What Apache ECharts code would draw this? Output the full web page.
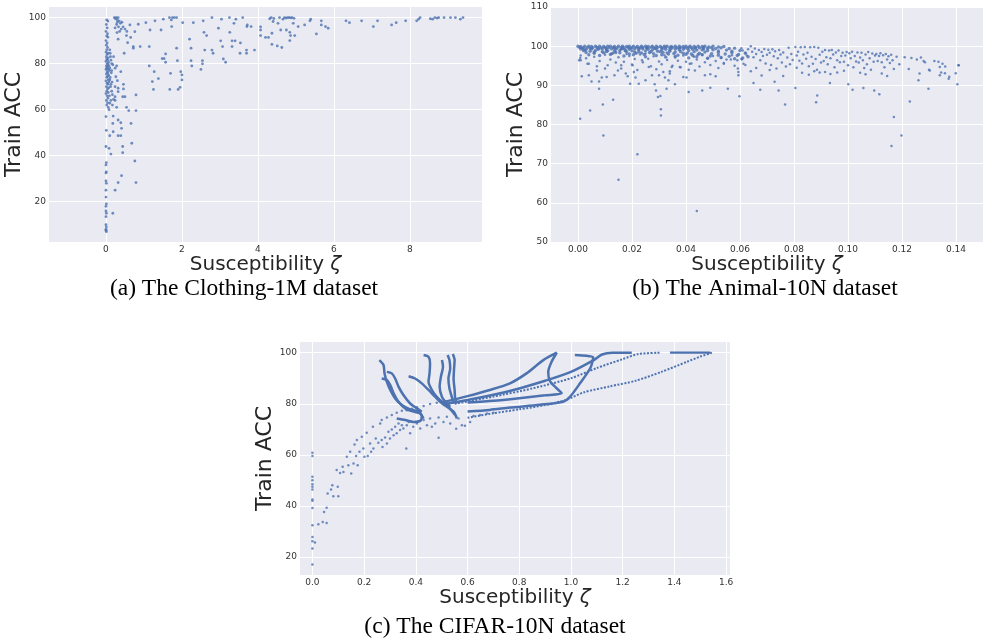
<!DOCTYPE html>
<html><head><meta charset="utf-8">
<script src="https://cdn.jsdelivr.net/npm/echarts@6/dist/echarts.min.js"></script>
<style>html,body{margin:0;padding:0;background:#fff}#c{width:984px;height:640px}</style>
</head><body><div id="c"></div>
<script>
// ---------- Tick labels ----------
const ticksAX = [0, 2, 4, 6, 8];
const ticksAY = [20, 40, 60, 80, 100];
const ticksBX = [0, 0.02, 0.04, 0.06, 0.08, 0.10, 0.12, 0.14];
const ticksBY = [50, 60, 70, 80, 90, 100, 110];
const ticksCX = [0, 0.2, 0.4, 0.6, 0.8, 1.0, 1.2, 1.4, 1.6];
const ticksCY = [20, 40, 60, 80, 100];
const captions = ['(a) The Clothing-1M dataset', '(b) The Animal-10N dataset', '(c) The CIFAR-10N dataset'];
const xTitle = 'Susceptibility ';
const yTitle = 'Train ACC';

// ---------- (a) Clothing-1M ----------
const clothingPoints = [
[0.02,99],[0.05,98.5],[0.01,97],[0.03,95.5],[0.0,94],[0.04,93],[0.02,92],[0.05,91.5],[0.0,90],[0.03,89],[0.01,88],[0.04,87],[0.02,86],[0.0,85],[0.05,84.5],[0.03,84],[0.01,83],[0.06,82.5],[0.02,82],[0.04,81.5],[0.0,81],[0.07,80.5],[0.03,80],[0.05,79.5],[0.01,79],[0.08,79],[0.04,78.5],[0.02,78],[0.06,77.5],[0.0,77.5],[0.09,77],[0.03,76.5],[0.05,76],[0.01,75.5],[0.07,75],[0.04,74.5],[0.02,74],[0.06,73],[0.0,72.5],[0.08,72],[0.03,71.5],[0.05,71],[0.01,70],[0.07,69.5],[0.04,69],[0.02,68],[0.06,67.5],[0.0,67],[0.03,66],[0.05,65],[0.01,64],[0.04,63],[0.02,62],[0.06,61],[0.0,57],[0.01,51],[0.0,44],[0.01,37],[0.0,36],[0.01,33],[0.0,32.5],[0.0,29],[0.01,28],[0.0,25],[0.0,22],[0.01,19],[0.0,18],[0.0,16],[0.01,15],[0.0,13.5],[0.0,10],[0.01,9],[0.0,8],[0.0,7.5],[0.01,7],
[0.1,86],[0.12,83],[0.15,80],[0.1,78],[0.14,76],[0.11,74],[0.16,72],[0.12,70],[0.15,68],[0.09,66],[0.13,64],[0.17,62],[0.08,60],[0.11,84.5],[0.13,81.5],[0.18,79.5],[0.15,77],[0.1,73],[0.13,71],[0.17,66.5],[0.2,64.5],
[0.22,100],[0.27,100],[0.32,100],[0.25,99.5],[0.3,99],[0.35,98.5],[0.42,98],[0.28,97],[0.38,97.5],[0.33,96],[0.24,95.5],[0.45,96],[0.4,95],[0.5,95],[0.36,94],[0.29,93.5],[0.55,94],[0.63,96.8],[0.3,98],
[0.32,90.6],[0.48,84.5],[0.2,83],[0.28,79],[0.24,78],[0.39,76.5],[0.26,74.3],[0.3,72.6],[0.24,70],[0.46,71],[0.46,69],[0.32,69.3],[0.32,67.8],[0.24,65.6],[0.24,64],[0.44,65.6],[0.5,65.6],[0.79,66.4],[0.1,62.8],[0.28,61],[0.54,61],[0.6,59.6],[0.79,59.6],[0.19,57.2],[0.18,54],[0.32,55.5],[0.39,54.3],[0.66,54],[0.41,51.9],[0.1,48.7],[0.32,48.7],[0.39,48.7],[0.19,50.4],[0.44,44],[0.44,41.3],[0.68,45.4],[0.76,37.7],[0.13,40.7],[0.08,43.2],[0.41,31.3],[0.32,28.3],[0.79,28.3],[0.24,25],[0.18,15],
[0.54,92.2],[0.65,91.4],[0.57,89.1],[0.72,87.4],[0.72,86.7],[0.9,87.4],[0.85,97.1],[0.76,93.9],[1.05,97.8],[1.16,94.6],[1.29,98.6],[1.14,87.4],[1.14,79],[1.22,72.2],[1.25,68.8],[1.27,76.5],[1.38,73.5],[1.45,94.6],[1.51,99.3],[1.48,82.2],[1.53,82.2],[1.57,84.2],[1.57,80.6],[1.67,100],[1.75,100],[1.8,100],[1.86,100],[1.72,99],[1.73,96.1],[1.7,75.8],[1.68,68.8],[1.86,86.7],[1.88,81.3],[1.9,68.8],[1.95,69.7],[1.97,76.5],[2.0,75.1],[2.0,72.9],[2.02,97.8],[2.2,90.6],[2.24,86.7],[2.24,81.3],[2.26,79],[2.3,97.8],[2.5,77.5],[2.54,81.3],[2.54,79.9],[2.56,98.6],[2.58,93.6],[2.6,85.9],[2.65,92.2],[2.79,100],[2.79,85.9],[2.82,84.5],[2.96,95.4],[3.02,89.9],[3.04,99.3],[3.07,87.4],[3.09,82],[3.15,80.6],[3.25,100],[3.26,93.6],[3.32,87.4],[3.32,89.9],[3.37,97.5],[3.4,89.9],[3.42,99.3],[3.53,84.5],[3.6,100],[3.7,85.9],[3.7,84.5],[3.72,96.8],
[3.54,89],[3.71,96.1],[3.82,96.1],[3.91,85.9],[4.07,96],[4.07,94.6],[4.07,92.2],[4.2,91.4],[4.28,91.4],[4.31,99.5],[4.35,100],[4.42,99.6],[4.4,98.3],[4.37,93.2],[4.37,88.4],[4.51,87.7],[4.53,97.5],[4.57,100],[4.6,94.6],[4.63,87],[4.66,99.3],[4.7,100],[4.74,99.8],[4.78,100],[4.82,100],[4.86,99.9],[4.9,100],[4.75,94.6],[4.84,93.6],[4.84,90],[4.86,92.2],[4.95,99.7],[4.93,97.5],[4.97,92.2],[5.06,96.1],[5.23,96.8],[5.37,98.6],[5.39,99.3],[5.54,92.9],[5.67,98.6],[5.67,96.8],[5.78,96.1],[5.85,95.4],[6.32,98.6],[6.41,97.8],[6.73,98.6],[7.04,96.1],[7.15,98.6],[7.52,96.8],[7.64,97.8],[7.89,98.6],[8.18,98.6],[8.23,99.3],[8.27,100],[8.54,99.5],[8.6,99.3],[8.66,100],[8.72,99.8],[8.76,100],[8.9,100],[9.07,100],[9.2,100],[9.33,99.3],[9.4,100]
];

// ---------- (b) Animal-10N ----------
const animalBand = [
[0.000,100],[0.001,99.9],[0.0025,100],[0.004,100],[0.005,99.9],[0.0065,100],[0.008,100],[0.0095,99.9],[0.011,100],[0.012,100],[0.0135,99.9],[0.015,100],[0.0165,100],[0.018,99.9],[0.019,100],[0.0205,100],[0.022,99.9],[0.0235,100],[0.025,100],[0.026,99.9],[0.0275,100],[0.029,100],[0.0305,99.9],[0.032,100],[0.033,100],[0.0345,99.9],[0.036,100],[0.0375,100],[0.039,99.9],[0.040,100],[0.0415,100],[0.043,99.9],[0.0445,100],[0.046,99.9],[0.047,100],[0.0485,99.8],[0.050,100],[0.052,99.8],[0.054,99.9],
[0.0005,99.7],[0.002,99.6],[0.0035,99.7],[0.0055,99.6],[0.007,99.7],[0.0085,99.6],[0.010,99.7],[0.0115,99.6],[0.013,99.7],[0.0145,99.6],[0.016,99.7],[0.017,99.6],[0.0185,99.7],[0.020,99.6],[0.0215,99.7],[0.023,99.6],[0.024,99.7],[0.0255,99.6],[0.027,99.7],[0.028,99.6],[0.0295,99.7],[0.031,99.6],[0.0325,99.7],[0.034,99.6],[0.035,99.7],[0.0365,99.6],[0.038,99.7],[0.0395,99.6],[0.041,99.7],[0.042,99.6],[0.0435,99.7],[0.045,99.6],[0.0465,99.7],[0.048,99.5],[0.0495,99.6],[0.051,99.4],[0.053,99.6],[0.056,99.4],[0.058,99.5],
[0.001,99.3],[0.003,99.2],[0.005,99.3],[0.0075,99.2],[0.009,99.3],[0.0105,99.1],[0.0125,99.3],[0.014,99.2],[0.016,99.3],[0.0175,99.1],[0.019,99.2],[0.021,99.3],[0.0225,99.1],[0.024,99.3],[0.026,99.2],[0.0275,99.0],[0.029,99.3],[0.031,99.1],[0.0325,99.2],[0.034,99.0],[0.036,99.3],[0.0375,99.1],[0.039,99.2],[0.041,98.9],[0.0425,99.2],[0.044,99.0],[0.046,99.1],[0.048,98.9],[0.050,99.1],[0.052,98.8],[0.055,99.0],[0.057,98.7],[0.060,98.9],
[0.002,98.9],[0.0045,98.7],[0.0065,98.9],[0.009,98.6],[0.011,98.8],[0.0135,98.7],[0.0155,98.9],[0.018,98.6],[0.020,98.8],[0.0225,98.5],[0.025,98.8],[0.027,98.6],[0.0295,98.7],[0.0315,98.4],[0.034,98.7],[0.036,98.5],[0.038,98.6],[0.0405,98.3],[0.043,98.6],[0.045,98.2],[0.047,98.5],[0.0495,98.1],[0.052,98.4],[0.0545,98.0],[0.057,98.3],[0.0595,97.9],[0.062,98.2],
[0.003,98.4],[0.006,98.2],[0.0095,98.3],[0.0125,98.1],[0.0155,98.3],[0.019,98.0],[0.0215,98.2],[0.0245,97.9],[0.028,98.1],[0.031,97.8],[0.0335,98.0],[0.037,97.7],[0.040,97.9],[0.0425,97.6],[0.046,97.8],[0.049,97.5],[0.052,97.7],[0.056,97.4],[0.059,97.6],[0.063,97.3],
[0.004,97.8],[0.008,97.6],[0.012,97.9],[0.017,97.5],[0.0205,97.8],[0.025,97.3],[0.029,97.6],[0.0325,97.2],[0.036,97.4],[0.041,97.0],[0.044,97.3],[0.048,96.9],[0.053,97.1],[0.058,96.8],[0.061,97.0],
[0.0015,99.5],[0.0045,99.4],[0.0075,99.5],[0.0105,99.4],[0.0135,99.5],[0.0165,99.4],[0.0195,99.5],[0.0225,99.4],[0.0255,99.5],[0.0285,99.4],[0.0315,99.5],[0.0345,99.4],[0.0375,99.5],[0.0405,99.4],[0.0435,99.5],[0.0465,99.3],
[0.0025,99.0],[0.006,98.5],[0.0105,98.6],[0.014,98.4],[0.0175,98.8],[0.021,98.5],[0.0235,98.3],[0.0265,98.4],[0.0305,98.6],[0.033,98.3],[0.0355,98.1],[0.039,98.2],[0.042,98.0],[0.0445,97.9]
];
const animalSparse = [
[0.001,97.6],[0.003,96.9],[0.006,97.3],[0.008,96.2],[0.010,97.8],[0.012,96.6],[0.014,95.8],[0.015,97.2],[0.017,96.0],[0.019,97.5],[0.020,95.3],[0.021,96.7],[0.023,97.9],[0.024,95.9],[0.026,96.8],[0.027,94.9],[0.028,97.4],[0.030,96.1],[0.031,95.4],[0.032,97.7],[0.033,96.5],[0.035,95.0],[0.036,97.1],[0.037,96.3],[0.038,94.6],[0.039,97.6],[0.040,96.0],[0.042,95.6],[0.043,97.3],[0.044,96.6],[0.045,94.8],[0.046,97.8],[0.047,95.9],[0.048,96.9],[0.049,95.2],[0.050,97.5],[0.051,96.2],[0.052,94.4],[0.053,97.0],[0.054,95.7],[0.055,96.6],[0.057,97.7],[0.058,95.0],[0.059,96.4],[0.016,94.3],[0.022,93.9],[0.029,94.1],[0.034,93.6],[0.041,94.0],[0.004,95.5],[0.007,94.9],[0.011,95.1],[0.018,98.0],[0.025,98.1],[0.013,98.2],
[0.0004,96.4],[0.0008,97],[0.001,96.4],[0.0008,81.5],[0.0014,92.3],[0.0035,95.5],[0.004,92.6],[0.0045,83.6],[0.005,91],[0.007,93.8],[0.0078,91],[0.0078,89.1],[0.0088,92],[0.0092,85.1],[0.0094,77.2],[0.01,94.3],[0.0106,92.1],[0.013,86.3],[0.0135,92.6],[0.0148,93.8],[0.015,65.9],[0.016,95.1],[0.0177,93],[0.0184,92.3],[0.0193,90.4],[0.0202,95.1],[0.0207,93.4],[0.0213,92],[0.022,72.4],[0.0225,90.4],[0.0237,96.4],[0.025,91.3],[0.0262,94.7],[0.0274,92.6],[0.0284,90.3],[0.0289,88.7],[0.0296,87],[0.0305,87.3],[0.0307,83.9],[0.0307,82.3],[0.03,92.6],[0.0316,93.4],[0.0322,92],[0.0328,89.1],[0.0335,91.3],[0.034,93],[0.0347,94.7],[0.0359,90.3],[0.0377,94.7],[0.039,92.1],[0.0402,92],[0.041,88.3],[0.0414,95.5],[0.0433,93.8],[0.044,57.9],[0.046,88.7],[0.047,92.6],[0.049,92.8],[0.049,89.4],[0.051,92.3],[0.054,95.5],[0.0555,89.1],[0.0566,96.6],[0.0592,94.3],[0.0594,93.4],[0.0594,92.6],[0.0598,87.2],[0.0607,96.6],[0.0613,95.5],
[0.065,90.6],[0.0675,88.9],[0.0728,90.9],[0.0743,88.7],[0.0767,85.1],[0.0805,89.3],[0.0882,85.7],[0.0886,87.4],[0.0933,90.6],[0.1001,90.3],[0.1017,88.9],[0.1057,89.3],[0.1097,88.7],[0.1116,87.7],[0.117,81.9],[0.1161,74.5],[0.1198,77.2],[0.1229,85.9],[0.1261,91.3],[0.1298,89.1],[0.1303,93.8],[0.134,92.6],[0.1359,93.1],[0.1373,91.7],[0.1399,93.1],[0.1405,90.3],[0.1409,95.1],
[0.0605,99.5],[0.061,98.9],[0.062,98.3],[0.0625,97.6],[0.063,99.2],[0.064,100],[0.0645,98.6],[0.065,97.2],[0.0655,99.4],[0.066,98.0],[0.067,99.0],[0.0675,96.4],[0.068,98.5],[0.0685,97.5],[0.069,99.3],[0.0695,95.6],[0.0605,96.8],[0.062,95.2],[0.064,93.6],[0.066,94.4],[0.068,92.5],[0.070,97.8],[0.0705,99.1],
[0.071,98.3],[0.072,99.2],[0.0725,97.4],[0.073,98.7],[0.074,96.9],[0.0745,99.0],[0.075,97.9],[0.0755,95.8],[0.076,98.4],[0.077,94.8],[0.0775,97.1],[0.078,99.6],[0.0785,95.4],[0.079,98.0],[0.0795,96.5],[0.071,93.9],[0.0735,94.3],[0.076,92.4],[0.0715,95.2],
[0.0805,99.8],[0.081,97.6],[0.0815,98.6],[0.082,96.3],[0.0825,99.7],[0.083,95.6],[0.0835,97.9],[0.084,99.8],[0.0845,96.8],[0.085,98.3],[0.0855,94.9],[0.086,99.7],[0.0865,97.3],[0.087,95.5],[0.0875,99.8],[0.088,96.7],[0.0885,94.0],[0.089,99.6],[0.0895,97.8],[0.090,95.8],[0.081,94.5],[0.083,93.2],[0.0855,92.7],[0.0875,93.6],[0.0895,93.3],
[0.0905,98.6],[0.091,96.2],[0.0915,99.0],[0.092,97.2],[0.0925,95.4],[0.093,98.9],[0.0935,96.9],[0.094,99.0],[0.0945,97.9],[0.095,94.6],[0.0955,98.4],[0.096,96.4],[0.0965,98.9],[0.097,95.9],[0.0975,97.5],[0.098,98.3],[0.0985,96.0],[0.099,97.6],[0.0995,98.5],[0.100,95.1],[0.0915,93.4],[0.0935,92.9],[0.096,93.3],[0.0985,93.7],
[0.1005,98.2],[0.101,96.9],[0.1015,98.6],[0.102,94.6],[0.1025,97.5],[0.103,96.1],[0.1035,98.4],[0.104,95.8],[0.1045,97.1],[0.105,98.3],[0.1055,96.4],[0.106,94.4],[0.1065,97.9],[0.107,95.4],[0.1075,98.5],[0.108,96.9],[0.1085,94.0],[0.109,98.1],[0.1095,96.0],[0.110,97.6],[0.1045,93.2],[0.1065,92.8],
[0.1105,98.0],[0.111,96.2],[0.1115,97.5],[0.112,98.2],[0.1125,95.9],[0.113,97.7],[0.1135,94.6],[0.114,98.0],[0.1145,96.6],[0.115,97.4],[0.1155,95.7],[0.116,97.8],[0.1165,96.4],[0.117,94.2],[0.118,97.3],[0.119,95.4],[0.1125,93.0],[0.1145,92.4],
[0.121,97.2],[0.1235,97.0],[0.1255,96.6],[0.127,97.1],[0.128,96.2],[0.1285,95.9],[0.130,94.0],[0.132,96.2],[0.1335,96.0],[0.134,94.7],[0.1345,93.3],[0.135,95.5],[0.136,94.8],[0.1375,92.2],[0.141,95.1],[0.1225,94.2],[0.1265,93.0]
];

// ---------- (c) CIFAR-10N ----------
const cifarDots = [
[0,60.8],[0,59.5],[0,51.4],[0,50],[0,48.5],[0,47.5],[0,46.4],[0,42.5],[0,42],[0,39.2],[0,32.4],[0,27.8],[0,26.1],[0,23.3],[0,17],[0.01,25.6],
[0.023,32.8],[0.04,33.7],[0.055,33.3],[0.045,37.6],[0.055,39.3],[0.059,44.8],[0.072,46.4],[0.077,48.1],[0.081,43.8],[0.094,54],[0.098,47.5],[0.1,43.8],[0.107,52.9],[0.117,55.3],[0.12,53.3],[0.133,59.2],[0.139,55.9],[0.146,61.2],[0.15,52.7],[0.159,56.6],[0.163,64],[0.169,59.5],[0.172,65.8],[0.175,55.9],[0.182,61.2],[0.191,67.1],[0.197,62.5],[0.201,59.2],[0.21,68.6],[0.214,59.5],[0.223,64.4],[0.227,61.2],[0.234,71],[0.236,62.5],[0.245,66.4],[0.255,64.7],[0.262,72.3],[0.268,65.8],[0.271,63.1],[0.281,66.8],[0.288,64.4],[0.294,69],[0.3,66.4],[0.307,69.9],[0.314,67.7],[0.32,71],[0.326,68.4],[0.333,72.3],[0.339,69.7],[0.346,71.6],[0.352,70.3],[0.363,62.5],[0.365,71.6],[0.372,72.9],[0.378,68.4],[0.39,71],[0.404,72.3],[0.417,70.3],[0.43,73.6],[0.443,71.6],[0.455,74.2],[0.462,71],[0.475,72.3],[0.488,66.7],[0.488,74.6],[0.507,72.9],[0.52,74.9],[0.533,72.3],[0.556,70.2],[0.565,74.2],[0.578,71.6],[0.59,71.4],[0.61,72.9],[0.623,75.2],[0.649,75.6],[0.675,76.2],[0.7,76.5],
[0.268,73.6],[0.288,74.6],[0.307,75.6],[0.326,76.5],[0.346,77.3],[0.365,77.5],[0.385,78],[0.404,78.6],[0.43,79.1],[0.455,79.9],[0.481,80.4],[0.507,80.9]
];
const traj1 = [[0.259,97.1],[0.275,95.2],[0.279,91.9],[0.288,88.6],[0.301,85.4],[0.32,82.1],[0.346,79.5],[0.378,77.8],[0.41,76.9],[0.423,75.2],[0.417,73.3],[0.391,72.9],[0.359,73.6],[0.326,74.2]];
const traj2 = [[0.268,89.9],[0.288,89.3],[0.301,87.3],[0.314,84.1],[0.333,80.8],[0.359,78.2],[0.391,76.9],[0.417,76.2],[0.43,74.2]];
const traj3 = [[0.288,92.5],[0.307,91.9],[0.32,89.9],[0.333,86.7],[0.352,83.4],[0.378,80.1],[0.404,78.2],[0.423,76.9]];
const traj4 = [[0.372,90.8],[0.397,89.9],[0.423,88],[0.449,85.4],[0.475,82.7],[0.494,80.8],[0.52,78.8],[0.546,76.9],[0.559,74.2]];
const traj5 = [[0.43,99.1],[0.449,98.4],[0.455,95.8],[0.453,91.9],[0.449,88.6],[0.462,85.4],[0.481,82.7],[0.501,80.8],[0.526,78.8],[0.552,75.6]];
const traj6 = [[0.501,97.1],[0.505,94.5],[0.497,90.6],[0.492,86.7],[0.501,82.7],[0.514,80.8],[0.533,78.8]];
const traj7 = [[0.523,99.1],[0.53,97.1],[0.533,93.9],[0.526,89.9],[0.53,86],[0.539,82.7],[0.546,80.1]];
const traj8 = [[0.543,99.5],[0.55,97.1],[0.548,93.9],[0.546,89.9],[0.55,85.4],[0.552,82.1],[0.559,80.1]];
const trajUp1 = [[0.5,80.5],[0.6,83],[0.686,85.4],[0.764,88],[0.828,91.9],[0.893,97.1],[0.945,100],[0.925,96.5],[0.912,92.5],[0.918,89],[0.94,86.5],[0.964,84.1],[0.9,83.3],[0.8,82.2],[0.7,81.2],[0.6,80.5]];
const trajUp2 = [[0.52,80],[0.6,81.5],[0.7,83.5],[0.8,86],[0.9,89],[1.0,92.5],[1.086,97],[1.12,99.3],[1.16,100],[1.235,100]];
const trajLoop = [[1.015,99.1],[1.06,98.8],[1.086,98.2],[1.075,94],[1.035,88],[0.996,82.7],[0.97,80.8],[0.88,79.6],[0.764,78.5],[0.686,77.6],[0.6,77]];
const dotLine1 = [[0.55,80],[0.7,82.8],[0.85,86],[1.0,90],[1.1,94],[1.2,97.5],[1.26,99.5],[1.345,100]];
const dotLine2 = [[0.6,74.5],[0.7,76.3],[0.8,77.8],[0.9,79.5],[0.98,81.5],[1.05,84.5],[1.15,86.8],[1.25,89],[1.35,92.5],[1.45,96.5],[1.5,98.5],[1.545,100]];
const topDash1 = [[1.383,100],[1.538,100]];

// ---------- build ----------
const BLUE = '#4C72B0';
const chart = echarts.init(document.getElementById('c'), null, {renderer: 'canvas'});
const grids = [
  {left: 49, top: 7, width: 433, height: 235},
  {left: 551, top: 7, width: 432, height: 235},
  {left: 300, top: 342, width: 430, height: 233}
];
function xAx(gi, min, max, ticks, fmt, gap) {
  return {
    type: 'value', gridIndex: gi, min: min, max: max,
    axisLine: {show: false},
    axisTick: {show: false, customValues: ticks},
    axisLabel: {customValues: ticks, formatter: fmt, fontSize: 9, color: '#333', margin: 3, fontFamily: 'DejaVu Sans'},
    splitLine: {show: true, lineStyle: {color: '#ffffff', width: 1}},
    name: '{a|' + xTitle + '}{z|ζ}', nameLocation: 'middle', nameGap: gap,
    nameTextStyle: {rich: {a: {fontSize: 20, color: '#262626', fontFamily: 'DejaVu Sans'}, z: {fontSize: 20, color: '#262626', fontStyle: 'italic', fontFamily: 'DejaVu Sans'}}}
  };
}
function yAx(gi, min, max, ticks, gap) {
  return {
    type: 'value', gridIndex: gi, min: min, max: max,
    axisLine: {show: false},
    axisTick: {show: false, customValues: ticks},
    axisLabel: {customValues: ticks, fontSize: 9, color: '#333', margin: 3, fontFamily: 'DejaVu Sans'},
    splitLine: {show: true, lineStyle: {color: '#ffffff', width: 1}},
    name: yTitle, nameLocation: 'middle', nameGap: gap, nameRotate: 90,
    nameTextStyle: {fontSize: 22, color: '#262626', fontFamily: 'DejaVu Sans'}
  };
}
function lineS(data, w, dotted) {
  return {type: 'line', xAxisIndex: 2, yAxisIndex: 2, data: data, showSymbol: false, smooth: 0.25,
    lineStyle: {color: BLUE, width: w, type: dotted ? [2, 1.5] : 'solid'}, silent: true, animation: false};
}
const option = {
  animation: false,
  textStyle: {fontFamily: 'DejaVu Sans'},
  grid: grids.map(g => Object.assign({show: true, backgroundColor: '#EAEAF2', borderWidth: 0}, g)),
  xAxis: [
    xAx(0, -1.5, 9.9, ticksAX, v => String(v), 11),
    xAx(1, -0.01, 0.15, ticksBX, v => v.toFixed(2), 11),
    xAx(2, -0.048, 1.615, ticksCX, v => v.toFixed(1), 13)
  ],
  yAxis: [
    yAx(0, 2.5, 104.6, ticksAY, 16),
    yAx(1, 50, 110, ticksBY, 17),
    yAx(2, 12.9, 104.2, ticksCY, 15)
  ],
  series: [
    {type: 'scatter', xAxisIndex: 0, yAxisIndex: 0, data: clothingPoints, symbolSize: 2.8, itemStyle: {color: BLUE}},
    {type: 'scatter', xAxisIndex: 1, yAxisIndex: 1, data: animalBand, symbolSize: 3.4, itemStyle: {color: BLUE}},
    {type: 'scatter', xAxisIndex: 1, yAxisIndex: 1, data: animalSparse, symbolSize: 2.5, itemStyle: {color: BLUE}},
    {type: 'scatter', xAxisIndex: 2, yAxisIndex: 2, data: cifarDots, symbolSize: 2.5, itemStyle: {color: BLUE}},
    lineS(traj1, 2.5), lineS(traj2, 2.5), lineS(traj3, 2.5), lineS(traj4, 2.5),
    lineS(traj5, 2.5), lineS(traj6, 2.5), lineS(traj7, 2.5), lineS(traj8, 2.5),
    lineS(trajUp1, 2.5), lineS(trajUp2, 2.5), lineS(trajLoop, 2.5),
    lineS(dotLine1, 2, true), lineS(dotLine2, 2, true), lineS(topDash1, 2.2)
  ],
  graphic: [
    {type: 'text', x: 244, y: 289, style: {text: captions[0], font: '23.5px "Liberation Serif"', fill: '#000', align: 'center', verticalAlign: 'middle'}},
    {type: 'text', x: 765, y: 289, style: {text: captions[1], font: '23.5px "Liberation Serif"', fill: '#000', align: 'center', verticalAlign: 'middle'}},
    {type: 'text', x: 495, y: 627, style: {text: captions[2], font: '23.5px "Liberation Serif"', fill: '#000', align: 'center', verticalAlign: 'middle'}}
  ]
};
chart.setOption(option);
</script></body></html>
